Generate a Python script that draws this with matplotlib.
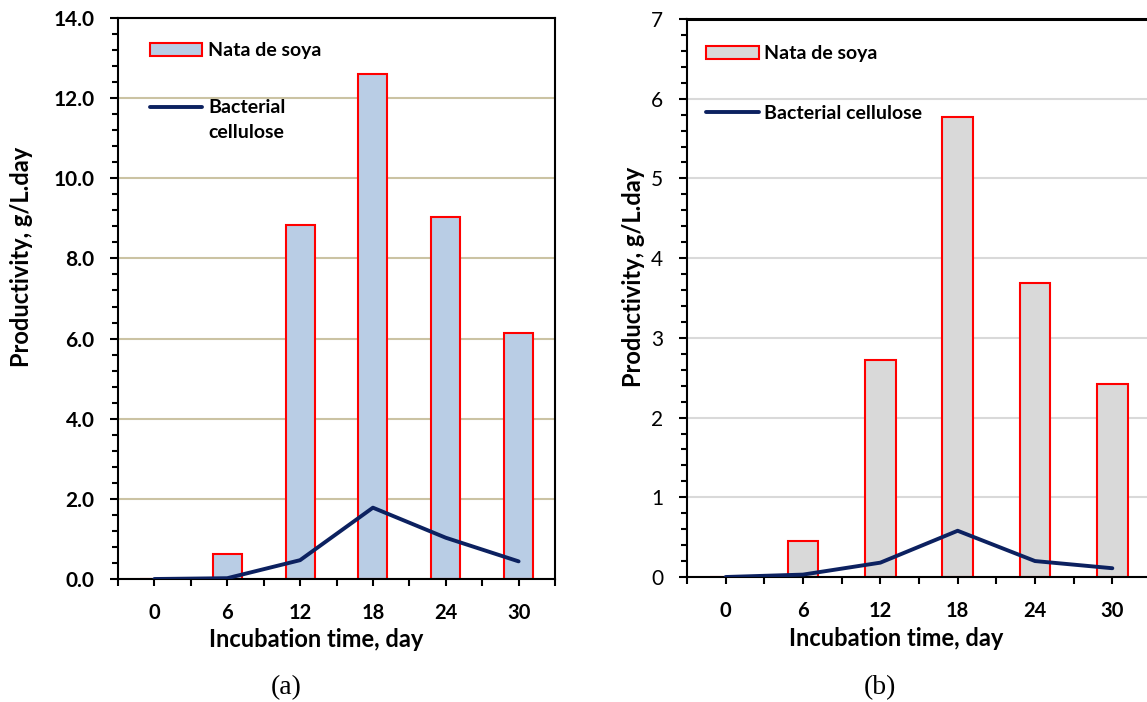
import numpy as np
import matplotlib.pyplot as plt
from matplotlib.ticker import MultipleLocator, FixedLocator, FormatStrFormatter

days = [0, 6, 12, 18, 24, 30]
nata_a = [0.0, 0.62, 8.83, 12.61, 9.04, 6.13]
cellulose_a = [0.0, 0.02, 0.47, 1.78, 1.03, 0.44]
nata_b = [0.0, 0.45, 2.72, 5.77, 3.69, 2.42]
cellulose_b = [0.0, 0.03, 0.18, 0.58, 0.20, 0.11]

plt.rcParams["font.family"] = ["Lato", "DejaVu Sans"]


def panel(ax, nata, cellulose, bar_color, grid_color, ymax, ystep, yminor,
          yfmt, yweight, leg_label, leg_anchor, leg_spacing):
    x = np.arange(len(days))
    bars = ax.bar(x, nata, width=0.4, color=bar_color, edgecolor="#ff0000",
                  linewidth=1.5, zorder=2, label="Nata de soya")
    line, = ax.plot(x, cellulose, color="#0c2160", lw=2.8, zorder=3,
                    solid_capstyle="round", label=leg_label)

    ax.set_xlim(-0.5, len(days) - 0.5)
    ax.set_ylim(0, ymax)
    ax.xaxis.set_major_locator(FixedLocator(np.arange(-0.5, len(days), 1)))
    ax.xaxis.set_minor_locator(FixedLocator(x))
    ax.xaxis.set_major_formatter(plt.NullFormatter())
    ax.xaxis.set_minor_formatter(plt.FixedFormatter([str(d) for d in days]))
    ax.yaxis.set_major_locator(MultipleLocator(ystep))
    ax.yaxis.set_minor_locator(MultipleLocator(yminor))
    ax.yaxis.set_major_formatter(FormatStrFormatter(yfmt))

    ax.tick_params(axis="x", which="both", direction="out", length=5,
                   width=1.5, labelsize=14.5)
    ax.tick_params(axis="x", which="minor", pad=12)
    for t in ax.get_xticklabels(minor=True):
        t.set_fontweight("bold")
    ax.tick_params(axis="y", which="major", direction="out", length=6,
                   width=1.5, labelsize=15, pad=11)
    ax.tick_params(axis="y", which="minor", direction="out", length=4,
                   width=1.5)
    for t in ax.get_yticklabels():
        t.set_fontweight(yweight)

    ax.grid(axis="y", color=grid_color, lw=1.5)
    ax.set_axisbelow(True)
    for s in ax.spines.values():
        s.set_linewidth(1.5)

    ax.set_xlabel("Incubation time, day", fontsize=17, fontweight="bold")
    ax.set_ylabel("Productivity, g/L.day", fontsize=17, fontweight="bold")

    leg = ax.legend(handles=[bars, line], loc="upper left",
                    bbox_to_anchor=leg_anchor, frameon=False, borderpad=0,
                    borderaxespad=0, handlelength=2.7, handletextpad=0.3,
                    labelspacing=leg_spacing,
                    prop={"weight": "bold", "size": 14})
    return leg


fig = plt.figure(figsize=(11.47, 7.02), dpi=100)
ax_a = fig.add_axes([118 / 1147, 1 - 579 / 702, 437 / 1147, 561 / 702])
ax_b = fig.add_axes([687 / 1147, 1 - 577 / 702, 464 / 1147, 558 / 702])

leg_a = panel(ax_a, nata_a, cellulose_a, "#b9cde5", "#cbc3a3", 14, 2, 0.4,
              "%.1f", "bold", "Bacterial\ncellulose", (0.073, 0.957), 1.4)
panel(ax_b, nata_b, cellulose_b, "#d9d9d9", "#d9d9d9", 7, 1, 0.2, "%d",
      "normal", "Bacterial cellulose", (0.041, 0.953), 2.2)

# keep the line handle level with the first line of the two-line label
txt = leg_a.get_texts()[1]
txt.set_linespacing(1.55)
txt.set_position((0, -13))

ax_a.xaxis.set_label_coords(0.454, -0.088)
ax_a.yaxis.set_label_coords(-0.195, 0.574)
ax_b.xaxis.set_label_coords(0.45, -0.089)
ax_b.yaxis.set_label_coords(-0.09, 0.538)
ax_b.spines["top"].set_linewidth(2.2)

fig.text(286 / 1147, 1 - 688 / 702, "(a)", ha="center", va="center",
         fontsize=20, family="Liberation Serif")
fig.text(880 / 1147, 1 - 688 / 702, "(b)", ha="center", va="center",
         fontsize=20, family="Liberation Serif")

fig.savefig("out.png", dpi=100)
